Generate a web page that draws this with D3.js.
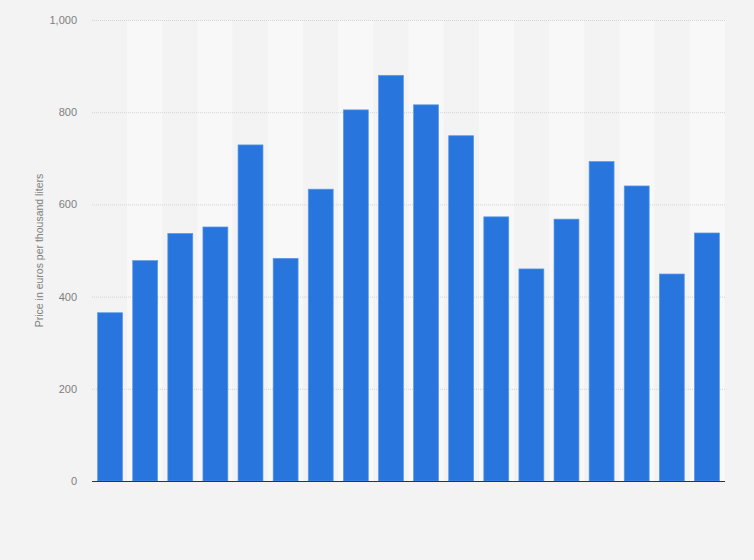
<!DOCTYPE html>
<html>
<head>
<meta charset="utf-8">
<script src="https://cdn.jsdelivr.net/npm/d3@7"></script>
<style>
  body { margin: 0; background: #f3f3f3; }
  svg { display: block; font-family: "Liberation Sans", Arial, sans-serif; }
</style>
</head>
<body>
<div id="chart"></div>
<script>
// one bar per period, no category labels shown in the source
const categories = d3.range(1, 19).map(i => 'P' + i);
const prices = [365, 478, 537, 551, 729, 483, 633, 805, 880, 816, 749, 573, 460, 568, 693, 640, 449, 538];
const yTicks = [0, 200, 400, 600, 800, 1000];

const width = 754, height = 560;
const margin = { top: 20, right: 29, bottom: 79, left: 92 };

const svg = d3.select('#chart').append('svg')
    .attr('width', width)
    .attr('height', height);

svg.append('rect')
    .attr('width', width)
    .attr('height', height)
    .attr('fill', '#f3f3f3');

const x = d3.scaleBand()
    .domain(categories)
    .range([margin.left, width - margin.right])
    .paddingInner(0.29)
    .paddingOuter(0.16);

const y = d3.scaleLinear()
    .domain([0, 1000])
    .range([height - margin.bottom, margin.top]);

// alternating column stripes
const step = (width - margin.left - margin.right) / categories.length;
svg.append('g')
    .selectAll('rect')
    .data(categories)
    .enter().append('rect')
    .attr('x', (d, i) => margin.left + i * step)
    .attr('y', y(1000))
    .attr('width', step)
    .attr('height', y(0) - y(1000))
    .attr('fill', (d, i) => i % 2 ? '#f8f8f8' : '#f3f3f3');

// grid
const yAxis = d3.axisLeft(y)
    .tickValues(yTicks)
    .tickSize(-(width - margin.left - margin.right))
    .tickPadding(15)
    .tickFormat(d3.format(','));

const gy = svg.append('g')
    .attr('transform', `translate(${margin.left},0)`)
    .call(yAxis);
gy.select('.domain').remove();
gy.selectAll('.tick line')
    .attr('stroke', '#d4d4d4')
    .attr('stroke-dasharray', '1,1');
gy.selectAll('.tick text')
    .attr('fill', '#808080')
    .attr('font-size', '11px');

svg.append('g')
    .selectAll('rect')
    .data(prices)
    .enter().append('rect')
    .attr('x', (d, i) => x(categories[i]))
    .attr('y', d => y(d))
    .attr('width', x.bandwidth())
    .attr('height', d => y(0) - y(d))
    .attr('fill', '#2876dd')
    .attr('stroke', '#5b98e6')
    .attr('stroke-width', 0.7);

// baseline
svg.append('line')
    .attr('x1', margin.left)
    .attr('x2', width - margin.right)
    .attr('y1', y(0) + 0.5)
    .attr('y2', y(0) + 0.5)
    .attr('stroke', '#333')
    .attr('stroke-width', 1.2);

svg.append('text')
    .attr('transform', `translate(43, ${(y(0) + y(1000)) / 2}) rotate(-90)`)
    .attr('text-anchor', 'middle')
    .attr('fill', '#808080')
    .attr('font-size', '10.5px')
    .text('Price in euros per thousand liters');
</script>
</body>
</html>
